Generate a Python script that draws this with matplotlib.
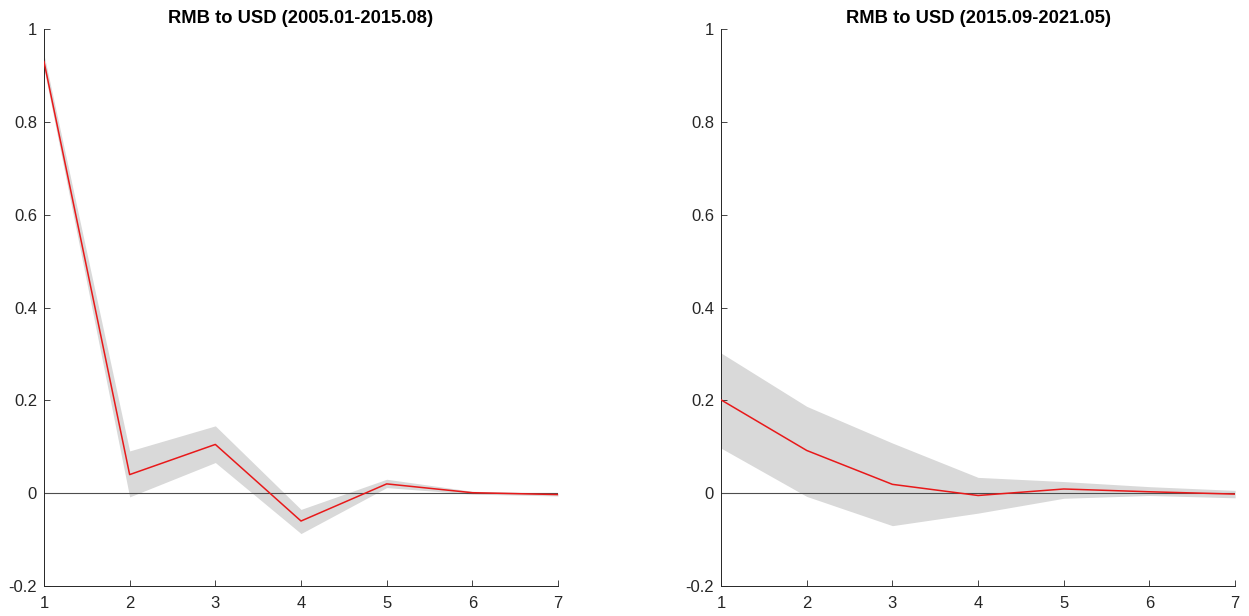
import matplotlib
matplotlib.use("Agg")
import matplotlib.pyplot as plt

plt.rcParams["font.family"] = ["Liberation Sans", "DejaVu Sans"]

# horizon steps
steps = [1, 2, 3, 4, 5, 6, 7]

# left panel: 2005.01-2015.08
left_mid = [0.930, 0.040, 0.105, -0.060, 0.020, 0.001, -0.003]
left_hi = [0.945, 0.091, 0.145, -0.035, 0.030, 0.004, 0.000]
left_lo = [0.915, -0.008, 0.066, -0.087, 0.012, -0.002, -0.006]

# right panel: 2015.09-2021.05
right_mid = [0.201, 0.092, 0.019, -0.005, 0.009, 0.003, -0.002]
right_hi = [0.302, 0.187, 0.108, 0.034, 0.025, 0.014, 0.006]
right_lo = [0.097, -0.007, -0.070, -0.043, -0.011, -0.005, -0.010]

titles = ["RMB to USD (2005.01-2015.08)", "RMB to USD (2015.09-2021.05)"]
yticks = [-0.2, 0, 0.2, 0.4, 0.6, 0.8, 1]
ytick_labels = ["-0.2", "0", "0.2", "0.4", "0.6", "0.8", "1"]

fig = plt.figure(figsize=(12.49, 6.16), dpi=100)
ax_left = fig.add_axes([0.0352, 0.0487, 0.4116, 0.9042])
ax_right = fig.add_axes([0.5773, 0.0487, 0.4116, 0.9042])

panels = [
    (ax_left, left_mid, left_hi, left_lo, titles[0]),
    (ax_right, right_mid, right_hi, right_lo, titles[1]),
]

for ax, mid, hi, lo, title in panels:
    ax.fill_between(steps, lo, hi, color="#d9d9d9", linewidth=0, zorder=1)
    ax.axhline(0, color="#4d4d4d", linewidth=0.8, zorder=2)
    ax.plot(steps, mid, color="#e8191a", linewidth=1.1, zorder=3)

    ax.set_xlim(1, 7)
    ax.set_ylim(-0.2, 1)
    ax.set_xticks(steps)
    ax.set_yticks(yticks)
    ax.set_yticklabels(ytick_labels)
    ax.tick_params(direction="in", length=4, width=0.6, labelsize=12,
                   colors="#262626", pad=5)
    ax.tick_params(axis="x", pad=7)
    ax.spines["top"].set_visible(False)
    ax.spines["right"].set_visible(False)
    for side in ["left", "bottom"]:
        ax.spines[side].set_color("#262626")
        ax.spines[side].set_linewidth(0.7)
    ax.set_title(title, fontsize=13.2, fontweight="bold", pad=4)

fig.savefig("out.png", dpi=100)
